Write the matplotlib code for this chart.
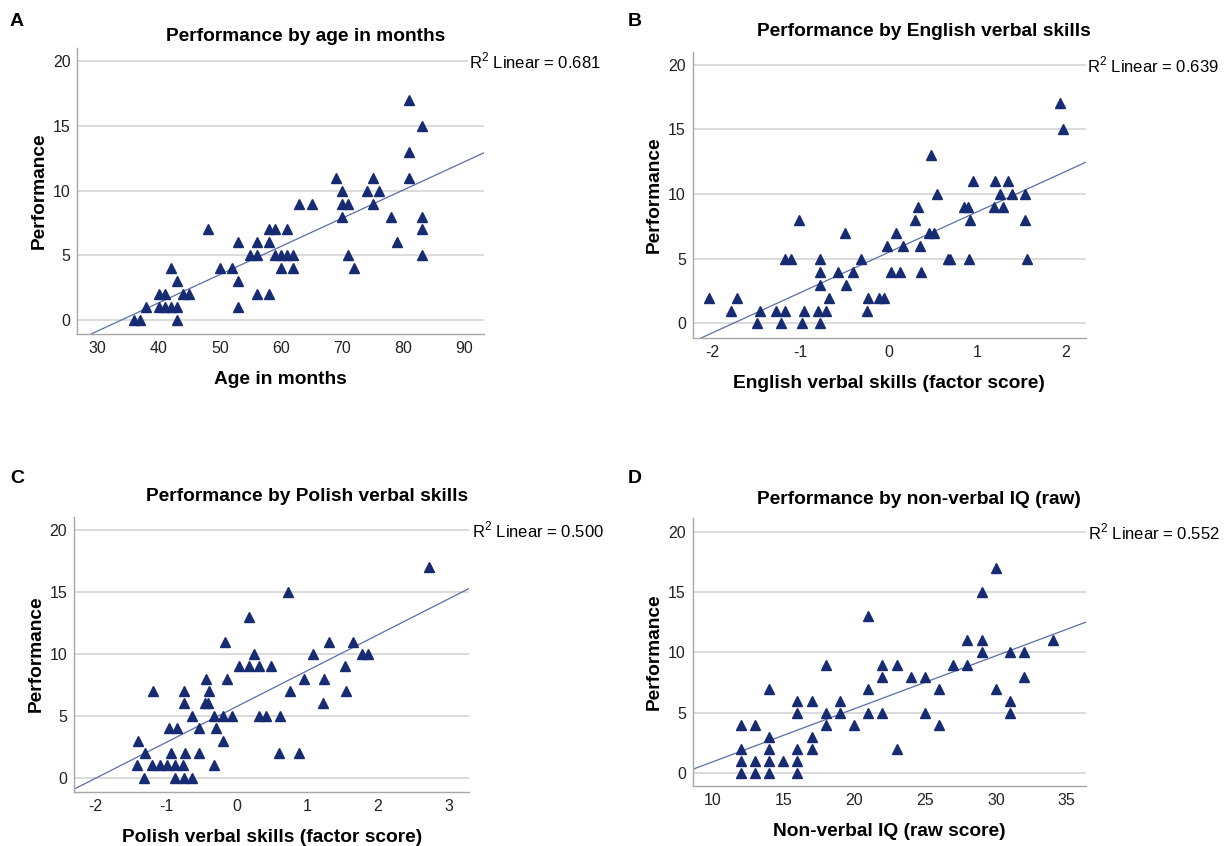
import matplotlib
matplotlib.use('Agg')
import matplotlib.pyplot as plt
import numpy as np

plt.rcParams['font.family'] = ['Liberation Sans', 'DejaVu Sans']
plt.rcParams['mathtext.fontset'] = 'custom'
plt.rcParams['mathtext.rm'] = 'Liberation Sans'
plt.rcParams['axes.unicode_minus'] = False

marker_color = '#172b72'
line_color = '#5b6ea6'

# panel A: age in months
age = [81, 83, 81, 81, 83, 83, 83, 69, 70, 70, 71, 70, 71, 72, 75, 74, 76, 75, 78, 79,
       63, 65, 48, 50, 52, 53, 53, 53, 55, 56, 56, 56, 58, 59, 58, 58, 59, 60, 61, 62,
       60, 62, 61, 42, 43, 40, 41, 44, 45, 38, 40, 41, 42, 43, 36, 37, 43]
perf_age = [17, 15, 13, 11, 8, 7, 5, 11, 10, 9, 9, 8, 5, 4, 11, 10, 10, 9, 8, 6,
            9, 9, 7, 4, 4, 6, 3, 1, 5, 6, 5, 2, 7, 7, 6, 2, 5, 5, 5, 5,
            4, 4, 7, 4, 3, 2, 2, 2, 2, 1, 1, 1, 1, 1, 0, 0, 0]

# panel B: English verbal skills
eng = [-2.03, -1.79, -1.72, -1.49, -1.46, -1.28, -1.22, -1.17, -1.17, -1.11,
       -1.02, -0.98, -0.96, -0.78, -0.78, -0.78, -0.80, -0.78, -0.71, -0.68,
       -0.58, -0.50, -0.48, -0.40, -0.31, -0.25, -0.23, -0.11, -0.05, -0.02,
       0.03, 0.08, 0.13, 0.16, 0.30, 0.33, 0.35, 0.37, 0.48, 0.46,
       0.51, 0.55, 0.67, 0.69, 0.85, 0.90, 0.95, 0.92, 0.91, 1.20,
       1.19, 1.26, 1.29, 1.35, 1.40, 1.54, 1.54, 1.57, 1.94, 1.97]
perf_eng = [2, 1, 2, 0, 1, 1, 0, 1, 5, 5, 8, 0, 1, 5, 4, 3, 1, 0, 1, 2,
            4, 7, 3, 4, 5, 1, 2, 2, 2, 6, 4, 7, 4, 6, 8, 9, 6, 4, 13, 7,
            7, 10, 5, 5, 9, 9, 11, 8, 5, 11, 9, 10, 9, 11, 10, 10, 8, 5, 17, 15]

# panel C: Polish verbal skills
pol = [-1.40, -1.41, -1.29, -1.31, -1.18, -1.20, -1.09, -0.98, -0.87, -0.76,
       -0.96, -0.85, -0.93, -0.73, -0.87, -0.74, -0.63, -0.74, -0.75, -0.63,
       -0.53, -0.53, -0.43, -0.39, -0.45, -0.41, -0.32, -0.29, -0.20, -0.32,
       -0.20, -0.17, -0.14, -0.07, 0.03, 0.17, 0.31, 0.48, 0.18, 0.24,
       0.32, 0.41, 0.61, 0.60, 0.88, 0.72, 0.76, 0.95, 1.08, 1.30,
       1.23, 1.22, 1.53, 1.55, 1.64, 1.77, 1.86, 2.72]
perf_pol = [3, 1, 2, 0, 7, 1, 1, 1, 1, 1, 4, 4, 2, 2, 0, 0, 0, 7, 6, 5,
            4, 2, 8, 7, 6, 6, 5, 4, 3, 1, 5, 11, 8, 5, 9, 9, 9, 9, 13, 10,
            5, 5, 5, 2, 2, 15, 7, 8, 10, 11, 8, 6, 9, 7, 11, 10, 10, 17]

# panel D: non-verbal IQ
iq = [12, 12, 12, 12, 13, 13, 13, 14, 14, 14, 14, 14, 15, 16, 16, 16, 16, 16,
      17, 17, 17, 18, 18, 18, 19, 19, 20, 21, 21, 21, 22, 22, 22, 23, 23, 24,
      25, 25, 26, 26, 27, 28, 28, 29, 29, 29, 30, 30, 31, 31, 31, 32, 32, 34]
perf_iq = [4, 2, 1, 0, 4, 1, 0, 7, 3, 2, 1, 0, 1, 6, 5, 2, 1, 0,
           6, 3, 2, 9, 5, 4, 6, 5, 4, 13, 7, 5, 9, 8, 5, 9, 2, 8,
           8, 5, 7, 4, 9, 11, 9, 15, 11, 10, 17, 7, 10, 6, 5, 10, 8, 11]

r2_labels = ['0.681', '0.639', '0.500', '0.552']
y_ticks = [0, 5, 10, 15, 20]


def draw_panel(rect, x, y, xticks, xlim, ylim, title, xlabel, r2, title_xy, r2_x, letter, letter_pos):
    ax = fig.add_axes(rect)
    for t in y_ticks:
        ax.axhline(t, color='#d4d4d4', linewidth=1.2, zorder=0)
    ax.plot(x, y, linestyle='none', marker='^', markersize=7.4, color=marker_color, zorder=3)
    slope, icpt = np.polyfit(x, y, 1)
    xs = np.array(xlim)
    ax.plot(xs, slope * xs + icpt, color=line_color, linewidth=0.9, zorder=2)
    ax.set_xlim(xlim)
    ax.set_ylim(ylim)
    ax.set_xticks(xticks)
    ax.set_yticks(y_ticks)
    ax.tick_params(length=0, labelsize=11.5, pad=5, colors='#222222')
    for s in ['top', 'right']:
        ax.spines[s].set_visible(False)
    for s in ['left', 'bottom']:
        ax.spines[s].set_color('#a8a8a8')
        ax.spines[s].set_linewidth(1.0)
    ax.set_xlabel(xlabel, fontsize=13.8, fontweight='bold', labelpad=11)
    ax.set_ylabel('Performance', fontsize=13.8, fontweight='bold', labelpad=3.5)
    ax.text(title_xy[0], title_xy[1], title, transform=ax.transAxes, ha='center', va='center',
            fontsize=13.8, fontweight='bold')
    ax.text(r2_x, 20, r'R$^{2}$ Linear = ' + r2, transform=ax.get_yaxis_transform(),
            ha='left', va='center', fontsize=12,
            bbox=dict(facecolor='white', edgecolor='none', pad=1))
    fig.text(letter_pos[0], letter_pos[1], letter, fontsize=14, fontweight='bold',
             ha='left', va='center')
    return ax


fig = plt.figure(figsize=(12.28, 8.46), dpi=100)

draw_panel([0.0630, 0.6052, 0.3312, 0.3377], age, perf_age, [30, 40, 50, 60, 70, 80, 90],
           (26.7, 93.2), (-1.08, 21.0), 'Performance by age in months', 'Age in months',
           r2_labels[0], (0.562, 1.040), 0.963, 'A', (0.008, 0.975))
draw_panel([0.5641, 0.6008, 0.3200, 0.3381], eng, perf_eng, [-2, -1, 0, 1, 2],
           (-2.22, 2.23), (-1.1, 21.0), 'Performance by English verbal skills',
           'English verbal skills (factor score)', r2_labels[1], (0.589, 1.072), 1.003, 'B',
           (0.511, 0.975))
draw_panel([0.0603, 0.0642, 0.3219, 0.3251], pol, perf_pol, [-2, -1, 0, 1, 2, 3],
           (-2.30, 3.29), (-1.13, 21.1), 'Performance by Polish verbal skills',
           'Polish verbal skills (factor score)', r2_labels[2], (0.589, 1.073), 1.006, 'C',
           (0.008, 0.434))
draw_panel([0.5641, 0.0709, 0.3200, 0.3164], iq, perf_iq, [10, 15, 20, 25, 30, 35],
           (8.61, 36.34), (-1.05, 21.1), 'Performance by non-verbal IQ (raw)',
           'Non-verbal IQ (raw score)', r2_labels[3], (0.575, 1.071), 1.005, 'D',
           (0.511, 0.434))

plt.savefig('out.png', dpi=100)
